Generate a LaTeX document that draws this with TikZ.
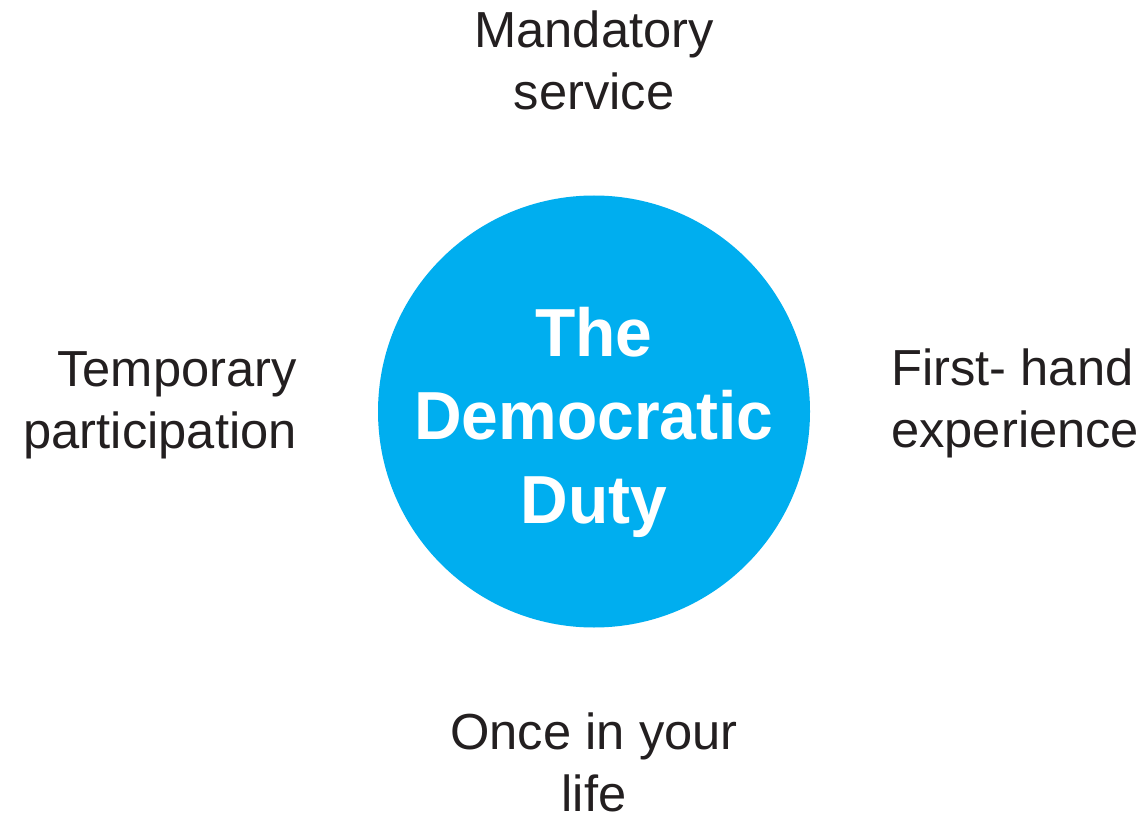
\documentclass[tikz,border=0pt]{standalone}
\usepackage{fontspec}
\setmainfont{Liberation Sans}
\newfontfamily\boldcenter[FakeStretch=0.97]{Liberation Sans Bold}
\definecolor{dutyblue}{HTML}{00AEEF}
\definecolor{labeltext}{HTML}{231F20}
\begin{document}
\begin{tikzpicture}[x=0.75pt,y=-0.75pt,
  outerlabel/.style={inner sep=0pt, text=labeltext, font=\fontsize{38pt}{46.5pt}\selectfont},
  centerlabel/.style={inner sep=0pt, text=white, align=center, font=\boldcenter\fontsize{51pt}{62.6pt}\selectfont}]
\useasboundingbox (0,0) rectangle (1144,816);
\fill[white] (0,0) rectangle (1144,816);
\fill[dutyblue] (594,411.5) circle[radius=216];
\node[centerlabel, anchor=base] (duty) at (594,523) {The\\Democratic\\Duty};
\node[outerlabel, align=center, anchor=base] (mand) at (594,110) {Mandatory\\service};
\node[outerlabel, align=right, anchor=base east] (temp) at (297,448) {Temporary\\participation};
\node[outerlabel, align=left, anchor=base west] (first) at (891,447) {First- hand\\experience};
\node[outerlabel, align=center, anchor=base] (once) at (594,811) {Once in your\\life};
\end{tikzpicture}
\end{document}
